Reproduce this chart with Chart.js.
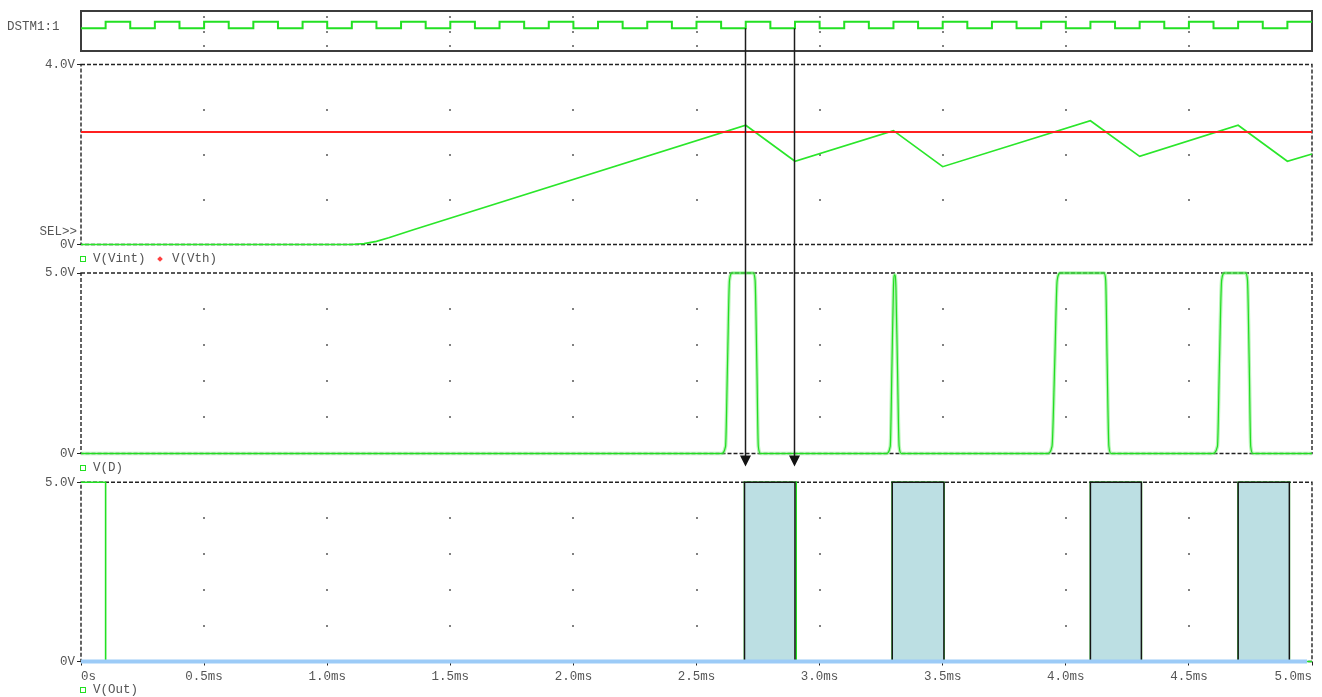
<!DOCTYPE html>
<html>
<head>
<meta charset="utf-8">
<title>Comparator timing</title>
<script src="https://cdn.jsdelivr.net/npm/chart.js@4.4.1/dist/chart.umd.min.js"></script>
<style>
  html, body { margin: 0; padding: 0; background: #fff; width: 1322px; height: 697px; overflow: hidden; }
  #stage { position: relative; width: 1322px; height: 697px; }
  #stage canvas { position: absolute; left: 0; }
  .txt { position: absolute; font: 12.5px "Liberation Mono", monospace; color: #555; white-space: pre; line-height: 14px; z-index: 5; }
  .sq { position: absolute; width: 4px; height: 4px; border: 1.5px solid #22e022; z-index: 5; }
  .dia { position: absolute; width: 4px; height: 4px; background: #ff4040; transform: rotate(45deg); z-index: 5; }
</style>
</head>
<body>
<div id="stage">
  <canvas id="clk" width="1322" height="56" style="top:0px"></canvas>
  <canvas id="vint" width="1322" height="200" style="top:54px"></canvas>
  <canvas id="vd" width="1322" height="200" style="top:263px"></canvas>
  <canvas id="vout" width="1322" height="227" style="top:470px"></canvas>
  <canvas id="marks" width="1322" height="697" style="top:0px;z-index:4"></canvas>

  <div class="txt" style="left:7px;top:20px">DSTM1:1</div>
  <div class="txt" style="right:1245px;top:225px">SEL&gt;&gt;</div>

  <div class="sq" style="left:80px;top:256px"></div>
  <div class="txt" style="left:93px;top:252px">V(Vint)</div>
  <div class="dia" style="left:158px;top:257px"></div>
  <div class="txt" style="left:172px;top:252px">V(Vth)</div>

  <div class="sq" style="left:80px;top:465px"></div>
  <div class="txt" style="left:93px;top:461px">V(D)</div>

  <div class="sq" style="left:80px;top:687px"></div>
  <div class="txt" style="left:93px;top:683px">V(Out)</div>
</div>

<script>
// ---- time axis (ms) ----
const xTickValues = [0, 0.5, 1.0, 1.5, 2.0, 2.5, 3.0, 3.5, 4.0, 4.5, 5.0];
const xTickLabels = ['0s', '0.5ms', '1.0ms', '1.5ms', '2.0ms', '2.5ms', '3.0ms', '3.5ms', '4.0ms', '4.5ms', '5.0ms'];

// ---- DSTM1:1 digital clock (level holds until the next time) ----
const clkTime = [0, 0.1, 0.2, 0.3, 0.4, 0.5, 0.6, 0.7, 0.8, 0.9,
                 1.0, 1.1, 1.2, 1.3, 1.4, 1.5, 1.6, 1.7, 1.8, 1.9,
                 2.0, 2.1, 2.2, 2.3, 2.4, 2.5, 2.6, 2.7, 2.8, 2.9,
                 3.0, 3.1, 3.2, 3.3, 3.4, 3.5, 3.6, 3.7, 3.8, 3.9,
                 4.0, 4.1, 4.2, 4.3, 4.4, 4.5, 4.6, 4.7, 4.8, 4.9, 5.0];
const clkLevel = [0, 1, 0, 1, 0, 1, 0, 1, 0, 1,
                  0, 1, 0, 1, 0, 1, 0, 1, 0, 1,
                  0, 1, 0, 1, 0, 1, 0, 1, 0, 1,
                  0, 1, 0, 1, 0, 1, 0, 1, 0, 1,
                  0, 1, 0, 1, 0, 1, 0, 1, 0, 1, 1];

// ---- V(Vint) integrator output and V(Vth) threshold ----
const vintTime = [0, 1.10, 1.15, 1.20, 1.25, 1.30, 1.35, 2.70, 2.90, 3.30, 3.50, 4.10, 4.30, 4.70, 4.90, 5.00];
const vintVolt = [0, 0, 0.02, 0.07, 0.15, 0.24, 0.33, 2.65, 1.85, 2.53, 1.73, 2.75, 1.96, 2.65, 1.85, 2.01];
const vthTime = [0, 5.0];
const vthVolt = [2.5, 2.5];
const vintAxisValues = [0, 4];
const vintAxisLabels = ['0V', '4.0V'];

// ---- V(D) comparator output ----
const dTime = [0,
  2.600, 2.618, 2.626, 2.634, 2.645, 2.730, 2.738, 2.745, 2.751, 2.760,
  3.270, 3.287, 3.294, 3.300, 3.305, 3.310, 3.316, 3.323, 3.332,
  3.925, 3.944, 3.955, 3.965, 3.978, 4.155, 4.162, 4.168, 4.175, 4.184,
  4.595, 4.616, 4.624, 4.633, 4.645, 4.730, 4.738, 4.745, 4.751, 4.760,
  5.0];
const dVolt = [0,
  0, 0.2, 2.5, 4.8, 5, 5, 4.8, 2.5, 0.2, 0,
  0, 0.2, 2.5, 4.6, 4.95, 4.6, 2.5, 0.2, 0,
  0, 0.2, 2.5, 4.8, 5, 5, 4.8, 2.5, 0.2, 0,
  0, 0.2, 2.5, 4.8, 5, 5, 4.8, 2.5, 0.2, 0,
  0];
const dAxisValues = [0, 5];
const dAxisLabels = ['0V', '5.0V'];

// ---- V(Out) output trace and its high pulses ----
const outTime = [0, 0.1, 0.1, 2.695, 2.695, 2.905, 2.905, 3.295, 3.295, 3.505, 3.505,
                 4.100, 4.100, 4.307, 4.307, 4.700, 4.700, 4.908, 4.908, 5.0];
const outVolt = [5, 5, 0, 0, 5, 5, 0, 0, 5, 5, 0, 0, 5, 5, 0, 0, 5, 5, 0, 0];
const pulseStart = [2.695, 3.295, 4.100, 4.700];
const pulseEnd = [2.900, 3.505, 4.307, 4.908];
const pulseLevel = 5;
const baseTime = [0, 4.98];
const baseVolt = [0, 0];
const outAxisValues = [0, 5];
const outAxisLabels = ['0V', '5.0V'];

// ---- clock edges marked with arrows ----
const markerTimes = [2.695, 2.898];

// ---------------------------------------------------------------
const FONT = { family: "'Liberation Mono', monospace", size: 12.5 };
const TEXT = '#555';
const GREEN = '#22e022';

const pts = (xs, ys) => xs.map((x, i) => ({ x, y: ys[i] }));

// grid dots at the time/voltage intersections plus the panel frame
const panelDecor = {
  id: 'panelDecor',
  beforeDatasetsDraw(chart, args, o) {
    const { ctx, chartArea: a, scales: { x, y } } = chart;
    ctx.save();
    ctx.fillStyle = '#808080';
    for (const t of xTickValues) {
      if (t <= x.min || t >= x.max) continue;
      const px = Math.round(x.getPixelForValue(t));
      for (const v of o.dotLevels) {
        const py = Math.round(y.getPixelForValue(v));
        ctx.fillRect(px - 1, py - 1, 2, 2);
      }
    }
    ctx.strokeStyle = o.frameColor;
    ctx.lineWidth = o.frameWidth;
    ctx.setLineDash(o.frameDash);
    ctx.strokeRect(a.left, a.top, a.right - a.left, a.bottom - a.top);
    ctx.restore();
  }
};

function hiddenX() {
  return { type: 'linear', min: 0, max: 5, display: false };
}

function voltAxis(values, labels, lo, hi) {
  return {
    type: 'linear', min: lo, max: hi,
    afterBuildTicks: ax => { ax.ticks = values.map(v => ({ value: v })); },
    afterFit: ax => { ax.width = 81; },
    ticks: {
      callback: v => labels[values.indexOf(v)],
      color: TEXT, font: FONT, padding: 2
    },
    grid: { drawOnChartArea: false, drawTicks: true, tickLength: 4, color: '#222' },
    border: { display: false }
  };
}

function baseOptions(scales, padding, decor) {
  return {
    responsive: false,
    animation: false,
    events: [],
    layout: { padding },
    scales,
    elements: { point: { radius: 0 } },
    plugins: { legend: { display: false }, tooltip: { enabled: false }, panelDecor: decor }
  };
}

const dashed = { frameColor: '#222', frameWidth: 1.4, frameDash: [4, 2] };

// DSTM1:1
const clkChart = new Chart(document.getElementById('clk'), {
  type: 'line',
  data: { datasets: [{
    data: pts(clkTime, clkLevel), stepped: true,
    borderColor: GREEN, borderWidth: 2, clip: false
  }] },
  options: baseOptions(
    { x: hiddenX(), y: { type: 'linear', min: -3.4, max: 2.6, display: false } },
    { left: 81, right: 10, top: 11, bottom: 5 },
    { dotLevels: [1.65, -0.6, -2.6], frameColor: '#3c3c3c', frameWidth: 2, frameDash: [] }
  ),
  plugins: [panelDecor]
});

// V(Vint) / V(Vth)
const vintChart = new Chart(document.getElementById('vint'), {
  type: 'line',
  data: { datasets: [
    { label: 'V(Vth)', data: pts(vthTime, vthVolt), borderColor: '#ff2020', borderWidth: 2, clip: false, order: 0 },
    { label: 'V(Vint)', data: pts(vintTime, vintVolt), borderColor: '#2ae62a', borderWidth: 1.6, clip: false, order: 1 }
  ] },
  options: baseOptions(
    { x: hiddenX(), y: voltAxis(vintAxisValues, vintAxisLabels, 0, 4) },
    { left: 0, right: 10, top: 10.5, bottom: 9.5 },
    Object.assign({ dotLevels: [1, 2, 3] }, dashed)
  ),
  plugins: [panelDecor]
});

// V(D)
const dChart = new Chart(document.getElementById('vd'), {
  type: 'line',
  data: { datasets: [
    { label: 'V(D)', data: pts(dTime, dVolt), borderColor: '#22dd22', borderWidth: 1.2,
      cubicInterpolationMode: 'monotone', clip: false, order: 0 },
    { label: 'V(D) edge', data: pts(dTime, dVolt), borderColor: 'rgba(120,235,120,0.55)', borderWidth: 3.5,
      cubicInterpolationMode: 'monotone', clip: false, order: 1 }
  ] },
  options: baseOptions(
    { x: hiddenX(), y: voltAxis(dAxisValues, dAxisLabels, 0, 5) },
    { left: 0, right: 10, top: 10, bottom: 9.5 },
    Object.assign({ dotLevels: [1, 2, 3, 4] }, dashed)
  ),
  plugins: [panelDecor]
});

// V(Out)
const pulseSets = pulseStart.map((s, i) => ({
  label: 'pulse ' + (i + 1),
  data: [{ x: s, y: 0 }, { x: s, y: pulseLevel }, { x: pulseEnd[i], y: pulseLevel }, { x: pulseEnd[i], y: 0 }],
  fill: 'origin', backgroundColor: '#bcdfe3', borderColor: '#151515', borderWidth: 1.5,
  clip: false, order: 1
}));

const outChart = new Chart(document.getElementById('vout'), {
  type: 'line',
  data: { datasets: [
    { label: 'baseline', data: pts(baseTime, baseVolt), borderColor: '#9ccbf7', borderWidth: 4, clip: false, order: 0 },
    ...pulseSets,
    { label: 'V(Out)', data: pts(outTime, outVolt), borderColor: GREEN, borderWidth: 1.6, clip: false, order: 2 }
  ] },
  options: baseOptions(
    {
      x: {
        type: 'linear', min: 0, max: 5,
        afterBuildTicks: ax => { ax.ticks = xTickValues.map(v => ({ value: v })); },
        afterFit: ax => { ax.height = 30; },
        ticks: {
          callback: (v, i) => xTickLabels[i],
          align: 'inner', autoSkip: false, maxRotation: 0, padding: 4,
          color: TEXT, font: FONT
        },
        grid: { drawOnChartArea: false, drawTicks: true, tickLength: 4, color: '#222' },
        border: { display: false }
      },
      y: voltAxis(outAxisValues, outAxisLabels, 0, 5)
    },
    { left: 0, right: 10, top: 12.3, bottom: 5.5 },
    Object.assign({ dotLevels: [1, 2, 3, 4] }, dashed)
  ),
  plugins: [panelDecor]
});

// arrows from the clock edges down to the output pulses
(function drawMarkers() {
  const top = id => parseFloat(document.getElementById(id).style.top);
  const ctx = document.getElementById('marks').getContext('2d');
  const xs = outChart.scales.x;
  const yStart = top('clk') + clkChart.scales.y.getPixelForValue(0);
  const gapTop = top('vd') + dChart.chartArea.bottom;
  const gapBottom = top('vout') + outChart.chartArea.top;
  const tip = (gapTop + gapBottom) / 2 - 1.5;
  ctx.strokeStyle = '#1c1c1c';
  ctx.fillStyle = '#111';
  ctx.lineWidth = 1.5;
  for (const t of markerTimes) {
    const px = Math.round(xs.getPixelForValue(t)) + 0.5;
    ctx.beginPath();
    ctx.moveTo(px, yStart);
    ctx.lineTo(px, tip - 9);
    ctx.stroke();
    ctx.beginPath();
    ctx.moveTo(px - 5.5, tip - 11);
    ctx.lineTo(px + 5.5, tip - 11);
    ctx.lineTo(px, tip);
    ctx.closePath();
    ctx.fill();
  }
})();
</script>
</body>
</html>
